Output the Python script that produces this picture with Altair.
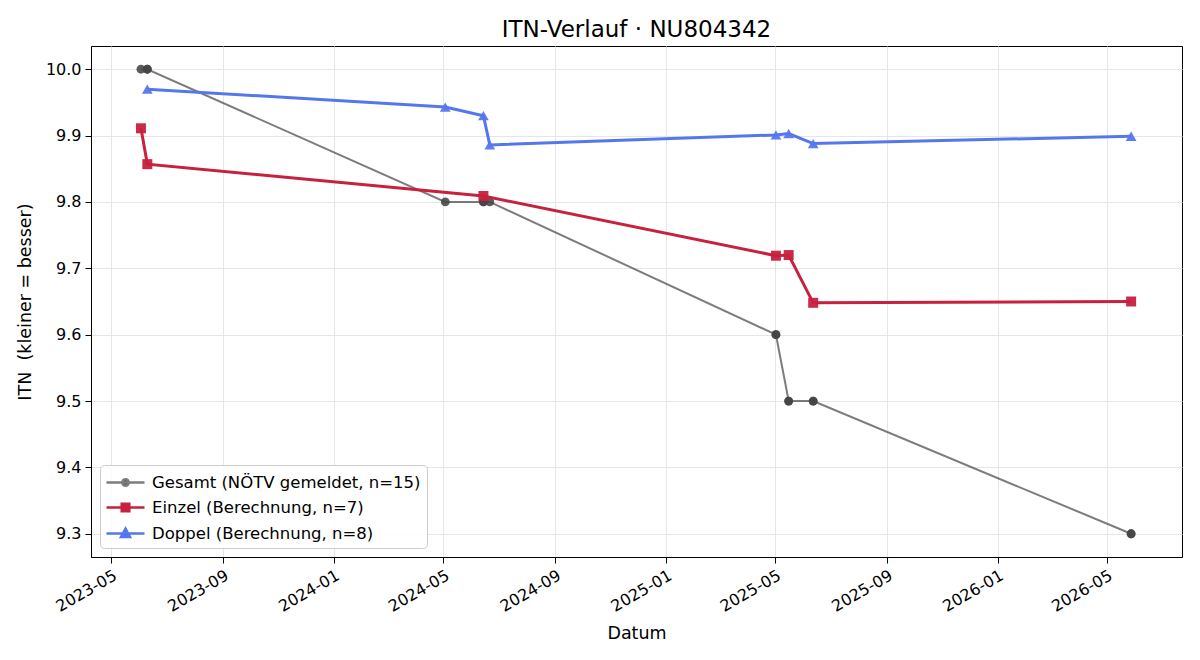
import altair as alt
import pandas as pd

# ITN history per series (date, rating)
gesamt_dates = ["2023-06-03", "2023-06-10", "2023-06-10", "2024-05-03", "2024-06-14",
                "2024-06-14", "2024-06-21", "2025-05-02", "2025-05-02", "2025-05-16",
                "2025-05-16", "2025-06-12", "2025-06-12", "2026-05-28", "2026-05-28"]
gesamt_itn = [10.0, 10.0, 10.0, 9.8, 9.8, 9.8, 9.8, 9.6, 9.6, 9.5, 9.5, 9.5, 9.5, 9.3, 9.3]

einzel_dates = ["2023-06-03", "2023-06-10", "2024-06-14", "2025-05-02", "2025-05-16",
                "2025-06-12", "2026-05-28"]
einzel_itn = [9.911, 9.857, 9.809, 9.719, 9.720, 9.648, 9.650]

doppel_dates = ["2023-06-10", "2024-05-03", "2024-06-14", "2024-06-21", "2025-05-02",
                "2025-05-16", "2025-06-12", "2026-05-28"]
doppel_itn = [9.970, 9.943, 9.930, 9.886, 9.901, 9.903, 9.888, 9.899]

series_labels = ["Gesamt (NÖTV gemeldet, n=15)",
                 "Einzel (Berechnung, n=7)",
                 "Doppel (Berechnung, n=8)"]

x_ticks = ["2023-05", "2023-09", "2024-01", "2024-05", "2024-09",
           "2025-01", "2025-05", "2025-09", "2026-01", "2026-05"]
y_ticks = [9.3, 9.4, 9.5, 9.6, 9.7, 9.8, 9.9, 10.0]

FONT = "DejaVu Sans"

rows = []
for label, dates, vals in zip(series_labels,
                              [gesamt_dates, einzel_dates, doppel_dates],
                              [gesamt_itn, einzel_itn, doppel_itn]):
    for d, v in zip(dates, vals):
        rows.append({"serie": label, "datum": d, "itn": v})
df = pd.DataFrame(rows)


def month_start(s):
    return alt.DateTime(year=int(s[:4]), month=int(s[5:7]), date=1, utc=True)


x_enc = alt.X(
    "datum:T",
    title="Datum",
    scale=alt.Scale(type="utc",
                    domain=[alt.DateTime(year=2023, month=4, date=9, utc=True),
                            alt.DateTime(year=2026, month=7, date=23, utc=True)]),
    axis=alt.Axis(values=[month_start(t) for t in x_ticks], format="%Y-%m",
                  labelAngle=-30, labelAlign="right", labelBaseline="top",
                  labelPadding=4, titlePadding=10),
)
y_enc = alt.Y(
    "itn:Q",
    title="ITN \u00a0(kleiner = besser)",
    scale=alt.Scale(domain=[9.265, 10.035], nice=False, zero=False),
    axis=alt.Axis(values=y_ticks, format=".1f", labelPadding=4, titlePadding=11),
)

base = alt.Chart(df).encode(x=x_enc, y=y_enc)

styles = [
    # label, line colour, line width, line opacity, point shape, point colour, size, point opacity
    (series_labels[0], "#444444", 2.0, 0.7, "circle", "#444444", 78, 0.88),
    (series_labels[1], "#c8203f", 3.0, 1.0, "square", "#c8203f", 100, 0.95),
    (series_labels[2], "#5577ee", 3.0, 1.0, "triangle-up", "#5577ee", 115, 0.95),
]

layers = []
for label, lc, lw, lo, shape, pc, size, po in styles:
    sub = base.transform_filter(alt.datum.serie == label)
    layers.append(sub.mark_line(color=lc, strokeWidth=lw, opacity=lo))
    layers.append(sub.mark_point(shape=shape, filled=True, size=size, color=pc,
                                 opacity=po, strokeWidth=0))

# Legend symbols: short line with the series marker on it
legend_paths = [
    "M-1.1,0H2.7M0.48,0A0.32,0.32 0 1,0 1.12,0A0.32,0.32 0 1,0 0.48,0Z",
    "M-1.1,0H2.7M0.42,-0.38H1.18V0.38H0.42Z",
    "M-1.1,0H2.7M0.8,-0.48L1.25,0.34H0.35Z",
]
fill_colors = ["#4d4d4d", "#c8203f", "#5577ee"]
stroke_colors = ["#7c7c7c", "#c8203f", "#5577ee"]

legend_def = alt.Legend(title=None)
legend_layer = base.transform_filter("false").mark_point(
    filled=True, strokeWidth=2.5, opacity=1
).encode(
    fill=alt.Fill("serie:N", scale=alt.Scale(domain=series_labels, range=fill_colors),
                  legend=legend_def),
    stroke=alt.Stroke("serie:N", scale=alt.Scale(domain=series_labels, range=stroke_colors),
                      legend=legend_def),
    shape=alt.Shape("serie:N", scale=alt.Scale(domain=series_labels, range=legend_paths),
                    legend=legend_def),
)
layers.append(legend_layer)

chart = alt.layer(*layers).properties(
    width=1091,
    height=511,
    autosize=alt.AutoSizeParams(type="none"),
    padding={"left": 91, "top": 46, "right": 18, "bottom": 103},
    title=alt.TitleParams("ITN-Verlauf · NU804342", font=FONT, fontSize=23,
                          fontWeight="normal", color="black", anchor="middle", offset=4),
).configure_view(
    stroke="black", strokeWidth=1
).configure_axis(
    domainColor="black", tickColor="black", tickSize=6, tickWidth=1,
    labelColor="black", labelFont=FONT, labelFontSize=16,
    titleColor="black", titleFont=FONT, titleFontSize=17.5, titleFontWeight="normal",
    gridColor="#e6e6e6", gridWidth=1,
).configure_legend(
    orient="bottom-left", offset=9, padding=6, rowPadding=5, labelOffset=23,
    symbolSize=400, symbolStrokeWidth=2.5, labelFont=FONT, labelFontSize=16.5,
    labelColor="black", labelLimit=400, strokeColor="#cccccc",
    fillColor="rgba(255,255,255,0.85)", cornerRadius=4,
)

chart.save("out.html", embed_options={"renderer": "svg", "actions": False})
